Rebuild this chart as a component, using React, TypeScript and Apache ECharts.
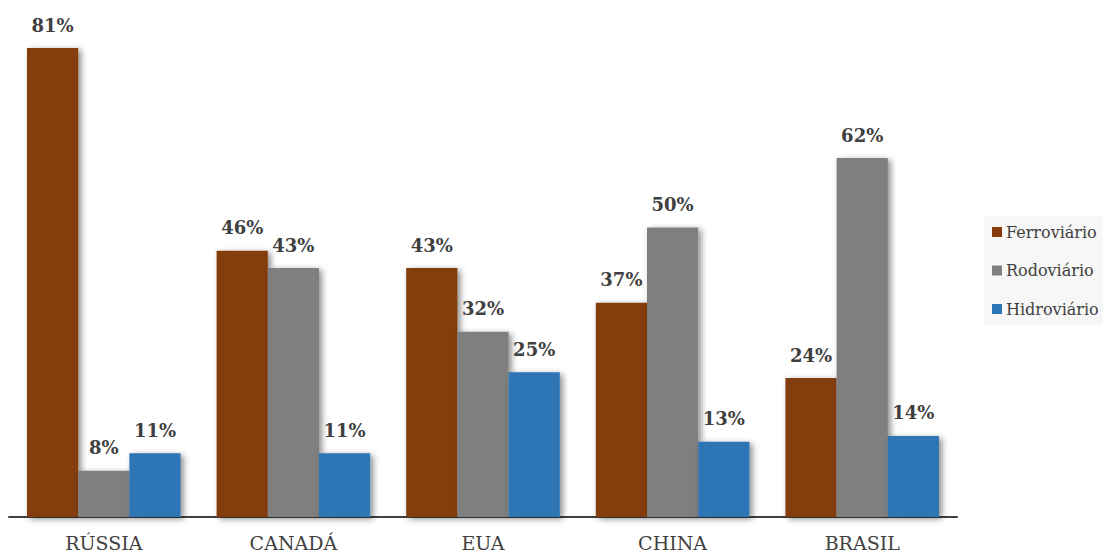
import React, { useEffect, useRef } from "react";
import * as echarts from "echarts";

const categories = ["RÚSSIA", "CANADÁ", "EUA", "CHINA", "BRASIL"];
const ferroviario = [81, 46, 43, 37, 24];
const rodoviario = [8, 43, 32, 50, 62];
const hidroviario = [11, 11, 25, 13, 14];
const seriesNames = ["Ferroviário", "Rodoviário", "Hidroviário"];
const colors = ["#843C0C", "#7F7F7F", "#2E75B6"];

const FONT = "DejaVu Serif";

export default function App() {
  const ref = useRef<HTMLDivElement>(null);
  useEffect(() => {
    if (!ref.current) return;
    const chart = echarts.init(ref.current, null, { renderer: "svg" });
    const data = [ferroviario, rodoviario, hidroviario];
    chart.setOption({
      animation: false,
      backgroundColor: "#ffffff",
      textStyle: { fontFamily: FONT },
      grid: { left: 9, right: 151, top: 0, bottom: 36, containLabel: false },
      legend: {
        orient: "vertical",
        left: 984,
        top: 216,
        itemWidth: 10,
        itemHeight: 10,
        itemGap: 22.5,
        padding: [8, 4, 8, 8],
        backgroundColor: "#f7f7f7",
        icon: "rect",
        textStyle: { fontFamily: FONT, fontSize: 16, color: "#404040", padding: [0, 0, 0, -1] },
        data: seriesNames,
      },
      xAxis: {
        type: "category",
        data: categories,
        axisLine: { lineStyle: { color: "#404040", width: 2 } },
        axisTick: { show: false },
        axisLabel: { fontFamily: FONT, fontSize: 19, color: "#404040", margin: 16 },
      },
      yAxis: {
        type: "value",
        min: 0,
        max: 89.3,
        show: false,
        splitLine: { show: false },
      },
      series: seriesNames.map((name, i) => ({
        name,
        type: "bar",
        data: data[i],
        barGap: "0%",
        barCategoryGap: "19%",
        itemStyle: {
          color: colors[i],
          shadowColor: "rgba(0,0,0,0.45)",
          shadowBlur: 6,
          shadowOffsetX: 3,
          shadowOffsetY: 2,
        },
        label: {
          show: true,
          position: "top",
          distance: 14,
          formatter: "{c}%",
          fontFamily: FONT,
          fontSize: 18,
          fontWeight: "bold",
          color: "#404040",
        },
      })),
    });
    return () => chart.dispose();
  }, []);
  return (
    <div
      ref={ref}
      style={{ position: "absolute", left: 0, top: 0, width: 1108, height: 553 }}
    />
  );
}
